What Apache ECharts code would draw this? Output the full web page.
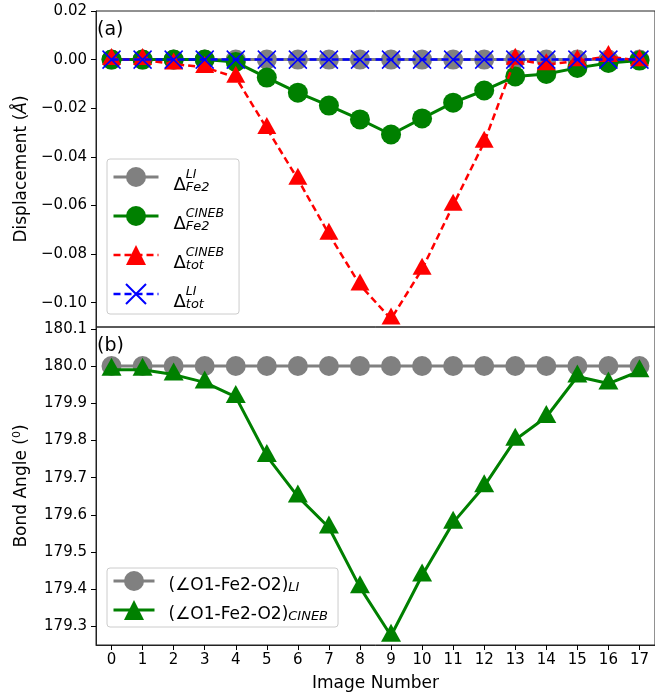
<!DOCTYPE html>
<html>
<head>
<meta charset="utf-8">
<script src="https://cdn.jsdelivr.net/npm/echarts@6/dist/echarts.min.js"></script>
<style>
  html, body { margin: 0; padding: 0; background: #fff; }
  #chart { width: 655px; height: 696px; }
</style>
</head>
<body>
<div id="chart"></div>
<script>
// Image index along the path
const imageNumbers = [0, 1, 2, 3, 4, 5, 6, 7, 8, 9, 10, 11, 12, 13, 14, 15, 16, 17];

// (a) displacement, Å
const dispFe2LI    = [0, 0, 0, 0, 0, 0, 0, 0, 0, 0, 0, 0, 0, 0, 0, 0, 0, 0];
const dispFe2CINEB = [0, 0, 0, 0, -0.001, -0.0074, -0.0136, -0.0189, -0.0246, -0.0308,
                      -0.0242, -0.0177, -0.0127, -0.0069, -0.0059, -0.0034, -0.0014, -0.0004];
const dispTotCINEB = [0, 0, -0.0018, -0.0032, -0.0073, -0.0283, -0.0492, -0.0718, -0.0927, -0.1067,
                      -0.0862, -0.0599, -0.034, 0.0002, -0.0021, -0.0005, 0.0013, -0.0005];
const dispTotLI    = [0, 0, 0, 0, 0, 0, 0, 0, 0, 0, 0, 0, 0, 0, 0, 0, 0, 0];

// (b) O1-Fe2-O2 bond angle, degrees
const angleLI    = [180, 180, 180, 180, 180, 180, 180, 180, 180, 180, 180, 180, 180, 180, 180, 180, 180, 180];
const angleCINEB = [179.99, 179.99, 179.977, 179.956, 179.917, 179.758, 179.649, 179.566, 179.405, 179.275,
                    179.437, 179.579, 179.677, 179.802, 179.863, 179.972, 179.953, 179.986];

// Tick positions
const dispTicks  = [-0.10, -0.08, -0.06, -0.04, -0.02, 0.00, 0.02];
const angleTicks = [179.3, 179.4, 179.5, 179.6, 179.7, 179.8, 179.9, 180.0, 180.1];
const imageTicks = [0, 1, 2, 3, 4, 5, 6, 7, 8, 9, 10, 11, 12, 13, 14, 15, 16, 17];

const FONT = 'DejaVu Sans';
const GRAY = '#808080', GREEN = '#008000', RED = '#ff0000', BLUE = '#0000ff';
const CROSS = 'path://M0,0L10,10M10,0L0,10';
const DASH = [7, 4];

const toPairs = ys => imageNumbers.map((x, i) => [x, ys[i]]);
const minusSign = s => s.replace('-', '\u2212');

const chart = echarts.init(document.getElementById('chart'), null, { renderer: 'canvas' });

const tickLabel = { fontFamily: FONT, fontSize: 15, color: '#000' };
const axisTick = { show: true, inside: false, length: 5, lineStyle: { color: '#000', width: 1 } };

// Legend label pieces: big Δ with stacked super/subscript
const deltaRich = {
  sp:  { width: 10, lineHeight: 34 },
  d:   { fontFamily: FONT, fontSize: 18, color: '#000', lineHeight: 23, verticalAlign: 'bottom' },
  sup: { fontFamily: FONT, fontSize: 12.5, fontStyle: 'italic', color: '#000', width: 0,
         lineHeight: 13, padding: [8, 0, 0, 0], verticalAlign: 'top' },
  sub: { fontFamily: FONT, fontSize: 13, fontStyle: 'italic', color: '#000', lineHeight: 14, verticalAlign: 'bottom' }
};
const deltaLabels = {
  'Fe2 LI':    '{sp|}{d|\u0394}{sup|LI}{sub|Fe2}',
  'Fe2 CINEB': '{sp|}{d|\u0394}{sup|CINEB}{sub|Fe2}',
  'tot CINEB': '{sp|}{d|\u0394}{sup|CINEB}{sub|tot}',
  'tot LI':    '{sp|}{d|\u0394}{sup|LI}{sub|tot}'
};
const angleRich = {
  sp:  { width: 9, lineHeight: 26 },
  m:   { fontFamily: FONT, fontSize: 17, color: '#000', lineHeight: 22, verticalAlign: 'bottom' },
  sub: { fontFamily: FONT, fontSize: 13, fontStyle: 'italic', color: '#000', lineHeight: 14, verticalAlign: 'bottom' }
};
const angleLabels = {
  'angle LI':    '{sp|}{m|(\u2220O1-Fe2-O2)}{sub|LI}',
  'angle CINEB': '{sp|}{m|(\u2220O1-Fe2-O2)}{sub|CINEB}'
};

const legendFrame = {
  backgroundColor: 'rgba(255,255,255,0.8)',
  borderColor: '#cccccc',
  borderWidth: 1,
  borderRadius: 3,
  orient: 'vertical',
  align: 'left',
  selectedMode: false
};

const option = {
  animation: false,
  backgroundColor: '#fff',
  grid: [
    { left: 96, top: 11, width: 562, height: 316, show: true, borderColor: '#222', borderWidth: 1, backgroundColor: 'transparent' },
    { left: 96, top: 327, width: 562, height: 318, show: true, borderColor: '#222', borderWidth: 1, backgroundColor: 'transparent' }
  ],
  xAxis: [
    { gridIndex: 0, type: 'value', min: -0.5, max: 17.5,
      axisLine: { show: false }, axisTick: { show: false }, axisLabel: { show: false }, splitLine: { show: false } },
    { gridIndex: 1, type: 'value', min: -0.5, max: 17.5,
      name: 'Image Number', nameLocation: 'middle', nameGap: 30,
      nameTextStyle: { fontFamily: FONT, fontSize: 17, color: '#000' },
      axisLine: { show: true, onZero: false, lineStyle: { color: '#222' } },
      axisTick: Object.assign({ customValues: imageTicks }, axisTick),
      axisLabel: Object.assign({ customValues: imageTicks, margin: 8, formatter: v => String(Math.round(v)) }, tickLabel),
      splitLine: { show: false } }
  ],
  yAxis: [
    { gridIndex: 0, type: 'value', min: -0.11, max: 0.02,
      name: '{n|Displacement (}{i|\u00C5}{n|)}', nameLocation: 'middle', nameGap: 66,
      nameTextStyle: { rich: {
        n: { fontFamily: FONT, fontSize: 17, color: '#000' },
        i: { fontFamily: FONT, fontSize: 17, fontStyle: 'italic', color: '#000' } } },
      axisLine: { show: true, onZero: false, lineStyle: { color: '#222' } },
      axisTick: Object.assign({ customValues: dispTicks }, axisTick),
      axisLabel: Object.assign({ customValues: dispTicks, margin: 9, formatter: v => minusSign(v.toFixed(2)) }, tickLabel),
      splitLine: { show: false } },
    { gridIndex: 1, type: 'value', min: 179.25, max: 180.105,
      name: '{n|Bond Angle (}{s|0}{n|)}', nameLocation: 'middle', nameGap: 64,
      nameTextStyle: { rich: {
        n: { fontFamily: FONT, fontSize: 17, color: '#000', lineHeight: 20 },
        s: { fontFamily: FONT, fontSize: 11, color: '#000', lineHeight: 12, verticalAlign: 'top' } } },
      axisLine: { show: true, onZero: false, lineStyle: { color: '#222' } },
      axisTick: Object.assign({ customValues: angleTicks }, axisTick),
      axisLabel: Object.assign({ customValues: angleTicks, margin: 9, formatter: v => v.toFixed(1) }, tickLabel),
      splitLine: { show: false } }
  ],
  legend: [
    Object.assign({
      left: 107, top: 159, padding: [1, 15, 3, 5], itemGap: 5,
      itemWidth: 45, itemHeight: 25,
      data: [
        { name: 'Fe2 LI', lineStyle: { width: 3 } },
        { name: 'Fe2 CINEB', lineStyle: { width: 3 } },
        { name: 'tot CINEB', lineStyle: { width: 2.5, type: DASH } },
        { name: 'tot LI', lineStyle: { width: 2.5, type: DASH } }
      ],
      formatter: name => deltaLabels[name],
      textStyle: { rich: deltaRich }
    }, legendFrame),
    Object.assign({
      left: 107, top: 568, padding: [3, 10, 4, 5], itemGap: 6,
      itemWidth: 41, itemHeight: 25,
      data: [
        { name: 'angle LI', lineStyle: { width: 3 } },
        { name: 'angle CINEB', lineStyle: { width: 3 } }
      ],
      formatter: name => angleLabels[name],
      textStyle: { rich: angleRich }
    }, legendFrame)
  ],
  graphic: [
    { type: 'text', left: 97, top: 21, style: { text: '(a)', fontFamily: FONT, fontSize: 19, fill: '#000' }, z: 100 },
    { type: 'text', left: 97, top: 337, style: { text: '(b)', fontFamily: FONT, fontSize: 19, fill: '#000' }, z: 100 }
  ],
  series: [
    { name: 'Fe2 LI', type: 'line', xAxisIndex: 0, yAxisIndex: 0, data: toPairs(dispFe2LI),
      symbol: 'circle', symbolSize: 20, z: 2,
      lineStyle: { color: GRAY, width: 3 }, itemStyle: { color: GRAY } },
    { name: 'Fe2 CINEB', type: 'line', xAxisIndex: 0, yAxisIndex: 0, data: toPairs(dispFe2CINEB),
      symbol: 'circle', symbolSize: 20, z: 3,
      lineStyle: { color: GREEN, width: 3 }, itemStyle: { color: GREEN } },
    { name: 'tot CINEB', type: 'line', xAxisIndex: 0, yAxisIndex: 0, data: toPairs(dispTotCINEB),
      symbol: 'triangle', symbolSize: [19, 17], symbolOffset: [0, -3], z: 4,
      lineStyle: { color: RED, width: 2.5, type: DASH }, itemStyle: { color: RED } },
    { name: 'tot LI', type: 'line', xAxisIndex: 0, yAxisIndex: 0, data: toPairs(dispTotLI),
      symbol: CROSS, symbolSize: 18, z: 5,
      lineStyle: { color: BLUE, width: 2.5, type: DASH },
      itemStyle: { color: BLUE, borderColor: BLUE, borderWidth: 1.5 } },
    { name: 'angle LI', type: 'line', xAxisIndex: 1, yAxisIndex: 1, data: toPairs(angleLI),
      symbol: 'circle', symbolSize: 20, z: 2,
      lineStyle: { color: GRAY, width: 3 }, itemStyle: { color: GRAY } },
    { name: 'angle CINEB', type: 'line', xAxisIndex: 1, yAxisIndex: 1, data: toPairs(angleCINEB),
      symbol: 'triangle', symbolSize: [20, 18], symbolOffset: [0, -3], z: 3,
      lineStyle: { color: GREEN, width: 3 }, itemStyle: { color: GREEN } }
  ]
};

chart.setOption(option);
</script>
</body>
</html>
